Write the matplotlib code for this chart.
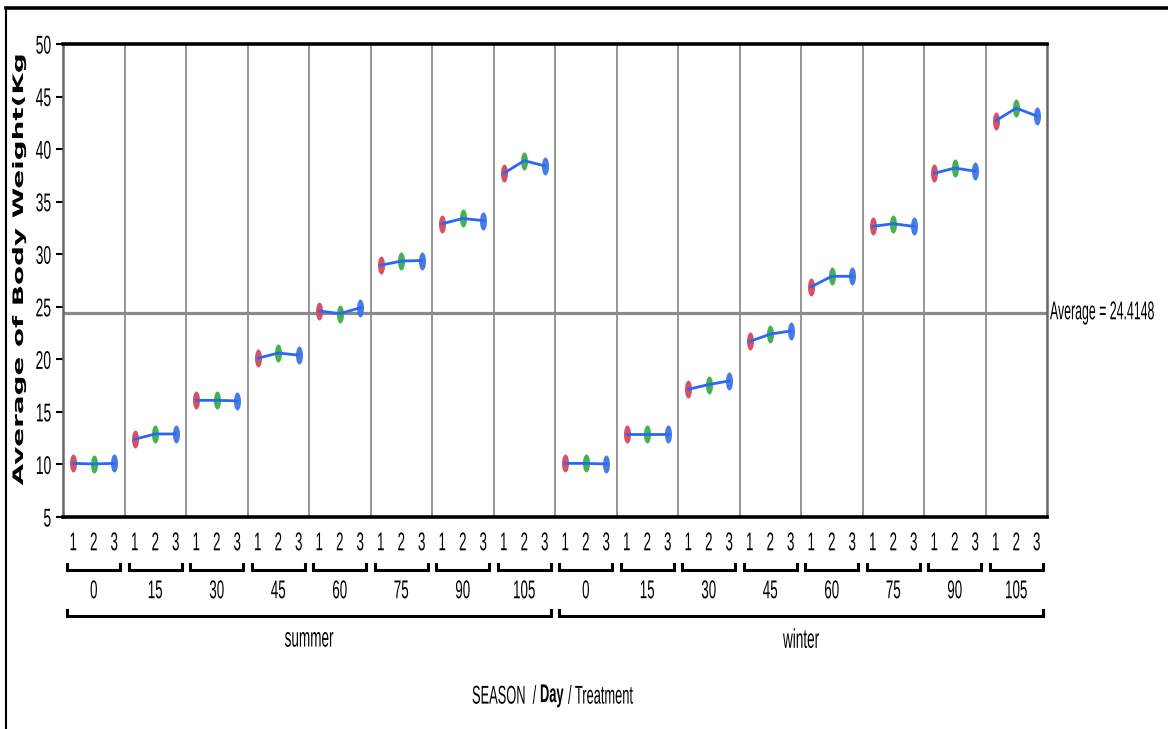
import matplotlib
matplotlib.use("Agg")
import matplotlib.pyplot as plt
from matplotlib.path import Path
from matplotlib.patheffects import AbstractPathEffect
from matplotlib.transforms import Affine2D, blended_transform_factory
from matplotlib.lines import Line2D

# ---- data -------------------------------------------------------------
seasons = ["summer", "winter"]
days = [0, 15, 30, 45, 60, 75, 90, 105]
treatments = ["1", "2", "3"]

summer_t1 = [10.1, 12.4, 16.1, 20.1, 24.6, 28.95, 32.9, 37.7]
summer_t2 = [10.05, 12.9, 16.1, 20.6, 24.35, 29.35, 33.4, 38.9]
summer_t3 = [10.1, 12.9, 16.05, 20.4, 24.9, 29.4, 33.2, 38.4]

winter_t1 = [10.1, 12.85, 17.15, 21.7, 26.9, 32.65, 37.7, 42.7]
winter_t2 = [10.1, 12.85, 17.6, 22.4, 27.9, 32.9, 38.2, 43.9]
winter_t3 = [10.05, 12.85, 17.95, 22.7, 27.9, 32.65, 37.9, 43.15]

average = 24.4148
y_ticks = [5, 10, 15, 20, 25, 30, 35, 40, 45, 50]

# ---- styling ----------------------------------------------------------
plt.rcParams["font.family"] = ["Liberation Sans", "DejaVu Sans"]
W, H = 1168, 729
treat_colors = ["#d6475b", "#3aae45", "#3f74e3"]
line_color = "#2a68f4"
grid_gray = "#8c8c8c"


class Tall(AbstractPathEffect):
    """Stretch glyph outlines vertically (screen y) about their centre,
    giving a tall, condensed look while keeping the text's width."""

    def __init__(self, sy=1.9):
        super().__init__()
        self.sy = sy

    def draw_path(self, renderer, gc, tpath, affine, rgbFace=None):
        bb = tpath.get_extents(affine)
        cy = 0.5 * (bb.y0 + bb.y1)
        stretch = Affine2D().translate(0, -cy).scale(1, self.sy).translate(0, cy)
        renderer.draw_path(gc, tpath, affine + stretch, rgbFace)


def fy(ypx):
    return 1 - ypx / H


def fx(xpx):
    return xpx / W


K = 0.52                       # width-to-height ratio of the condensed look
FS = 18.5 * K                  # base label size (pt)
TALL = [Tall(1 / K)]

fig = plt.figure(figsize=(W / 100, H / 100), dpi=100)
ax = fig.add_axes([fx(63), fy(517), fx(1047 - 63), (517 - 44) / H])

n_days = len(days)
n_tr = len(treatments)
ax.set_xlim(-0.5, n_days * len(seasons) * n_tr - 0.5)
ax.set_ylim(5, 50)

# panel separators and the overall average
for k in range(1, n_days * len(seasons)):
    ax.axvline(k * n_tr - 0.5, color=grid_gray, lw=1.3, zorder=1)
ax.axhline(average, color="#8a8a8a", lw=2.3, zorder=1)

# elongated oval marker
oval = Path.unit_circle().transformed(Affine2D().scale(7 / 18, 1))

season_data = {
    "summer": [summer_t1, summer_t2, summer_t3],
    "winter": [winter_t1, winter_t2, winter_t3],
}

trans = blended_transform_factory(ax.transData, fig.transFigure)

tick_pos = []
for s, season in enumerate(seasons):
    series = season_data[season]
    for d in range(n_days):
        panel = s * n_days + d
        xs = [panel * n_tr + t for t in range(n_tr)]
        ys = [series[t][d] for t in range(n_tr)]
        for t in range(n_tr):
            ax.plot(xs[t], ys[t], ls="none", marker=oval, ms=13,
                    mfc=treat_colors[t], mec="none", alpha=0.95, zorder=3)
        ax.plot(xs, ys, color=line_color, lw=2.0, zorder=4,
                solid_capstyle="round")
        for t in range(n_tr):
            ax.text(xs[t], fy(543), treatments[t], transform=trans,
                    ha="center", va="center", fontsize=FS, path_effects=TALL)
        tick_pos += xs

# spines
for side in ("top", "bottom"):
    ax.spines[side].set_color("black")
    ax.spines[side].set_linewidth(2.6)
for side in ("left", "right"):
    ax.spines[side].set_color("#666666")
    ax.spines[side].set_linewidth(1.8)

ax.set_yticks(y_ticks, [str(v) for v in y_ticks])
ax.tick_params(axis="y", length=5, width=1.5, color="black", pad=3.5,
               labelsize=18.5 * 0.54)
for lbl in ax.get_yticklabels():
    lbl.set_path_effects([Tall(1 / 0.54)])
ax.set_xticks(tick_pos)
ax.tick_params(axis="x", length=0, labelbottom=False)

# group labels and brackets below the axis
inset = 0.2


def bracket(x0, x1, ypx, hook=6):
    line = Line2D([x0, x0, x1, x1], [fy(ypx - hook), fy(ypx), fy(ypx), fy(ypx - hook)],
                  transform=trans, color="black", lw=2.2,
                  solid_joinstyle="miter")
    fig.add_artist(line)


for s, season in enumerate(seasons):
    for d, day in enumerate(days):
        panel = s * n_days + d
        left = panel * n_tr - 0.5
        bracket(left + inset, left + n_tr - inset, 570)
        ax.text(left + n_tr / 2, fy(591), str(day), transform=trans,
                ha="center", va="center", fontsize=FS, path_effects=TALL)
    s_left = s * n_days * n_tr - 0.5
    s_right = s_left + n_days * n_tr
    bracket(s_left + inset, s_right - inset, 616)
    ax.text((s_left + s_right) / 2, fy(639), season, transform=trans,
            ha="center", va="center", fontsize=19.5 * 0.5,
            path_effects=[Tall(2.0)])

# axis titles
fig.text(fx(19), fy(270), "Average of Body Weight(Kg", rotation=90,
         ha="center", va="center", fontsize=20 * K, fontweight="bold",
         family="DejaVu Sans", path_effects=TALL)

fig.text(fx(472), fy(696), "SEASON  /", ha="left", va="center",
         fontsize=18.5 * 0.5, path_effects=[Tall(2.0)])
fig.text(fx(540), fy(696), "Day", ha="left", va="center",
         fontsize=18.5 * 0.5, fontweight="bold", path_effects=[Tall(2.0)])
fig.text(fx(568), fy(696), "/ Treatment", ha="left", va="center",
         fontsize=18.5 * 0.5, path_effects=[Tall(2.0)])

fig.text(fx(1050), fy(313), f"Average = {average}", ha="left", va="center",
         fontsize=18.5 * 0.48, path_effects=[Tall(1 / 0.48)])

# outer frame
fig.add_artist(Line2D([fx(6), 1], [fy(8), fy(8)], transform=fig.transFigure,
                      color="black", lw=2.6))
fig.add_artist(Line2D([fx(6), fx(6)], [0, fy(8)], transform=fig.transFigure,
                      color="black", lw=1.5))

fig.savefig("out.png", dpi=100)
